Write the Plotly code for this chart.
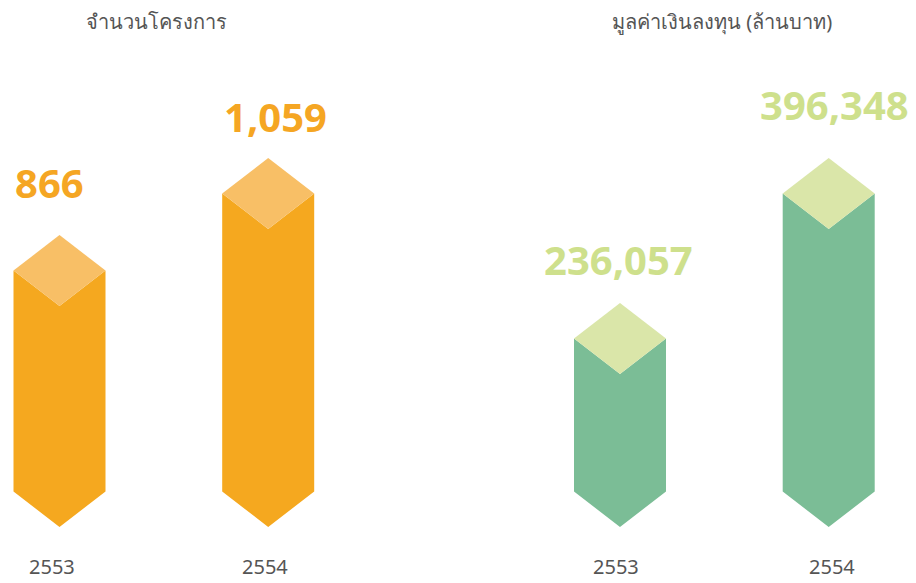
import plotly.graph_objects as go

# ---- data ----
years = ["2553", "2554"]
projects = [866, 1059]
investment = [236057, 396348]
project_labels = ["866", "1,059"]
investment_labels = ["236,057", "396,348"]
titles = ["จำนวนโครงการ", "มูลค่าเงินลงทุน (ล้านบาท)"]

# ---- layout / style ----
W, H = 916, 583
BOTTOM_PX = 527          # pixel row of the bottom tip
DIAMOND_PX = 35.5        # half height of the diamond cap (px)
HALF_W_PX = 46           # half width of a prism (px)
SLOT_PX = 208.7          # distance between bar centres (px)

panels = [
    dict(values=projects, labels=project_labels, title=titles[0],
         xr=[-59.5 / SLOT_PX, -59.5 / SLOT_PX + 458 / SLOT_PX],
         yr=[-6, 1455], dom=[0, 0.5],
         dark="#F5A81F", light="#F8BF66", text="#F5A623", title_x=156,
         label_shift=[(-10, 53), (7, 42)], year_shift=[(-8, -39), (-3, -39)]),
    dict(values=investment, labels=investment_labels, title=titles[1],
         xr=[-162 / SLOT_PX, -162 / SLOT_PX + 458 / SLOT_PX],
         yr=[-73490, 571017], dom=[0.5, 1],
         dark="#7BBD96", light="#DAE6A9", text="#CEE08C", title_x=722,
         label_shift=[(-2, 43), (6, 54)], year_shift=[(-4, -39), (3, -39)]),
]

fig = go.Figure()
annotations = []
for i, p in enumerate(panels):
    xa = "x" if i == 0 else "x2"
    ya = "y" if i == 0 else "y2"
    y0, y1 = p["yr"]
    upp = (y1 - y0) / H                      # data units per pixel
    base = y1 - BOTTOM_PX * upp
    dh = DIAMOND_PX * upp
    w = HALF_W_PX / SLOT_PX
    for j, v in enumerate(p["values"]):
        c = j
        body_x = [c - w, c, c + w, c + w, c, c - w, c - w]
        body_y = [v - dh, v - 2 * dh, v - dh, base + dh, base, base + dh, v - dh]
        fig.add_trace(go.Scatter(x=body_x, y=body_y, xaxis=xa, yaxis=ya,
                                 fill="toself", fillcolor=p["dark"], mode="lines",
                                 line=dict(width=0), hoverinfo="skip", showlegend=False))
        cap_x = [c, c + w, c, c - w, c]
        cap_y = [v, v - dh, v - 2 * dh, v - dh, v]
        fig.add_trace(go.Scatter(x=cap_x, y=cap_y, xaxis=xa, yaxis=ya,
                                 fill="toself", fillcolor=p["light"], mode="lines",
                                 line=dict(width=0), hoverinfo="skip", showlegend=False))
        lx, ly = p["label_shift"][j]
        annotations.append(dict(x=c, y=v, xref=xa, yref=ya, text=p["labels"][j],
                                showarrow=False, xshift=lx, yshift=ly, yanchor="middle",
                                font=dict(family="Noto Sans", size=40, color=p["text"],
                                          weight="bold")))
        yx, yy = p["year_shift"][j]
        annotations.append(dict(x=c, y=base, xref=xa, yref=ya, text=years[j],
                                showarrow=False, xshift=yx, yshift=yy, yanchor="middle",
                                font=dict(family="Noto Sans", size=20, color="#555555")))
    annotations.append(dict(x=p["title_x"] / W, y=1 - 22 / H, xref="paper", yref="paper",
                            text=p["title"], showarrow=False, yanchor="middle",
                            xanchor="center",
                            font=dict(family="Noto Sans", size=20, color="#555555")))

axis_common = dict(visible=False, showgrid=False, zeroline=False, fixedrange=True)
fig.update_layout(
    width=W, height=H,
    margin=dict(l=0, r=0, t=0, b=0),
    paper_bgcolor="white", plot_bgcolor="white",
    xaxis=dict(domain=panels[0]["dom"], range=panels[0]["xr"], **axis_common),
    xaxis2=dict(domain=panels[1]["dom"], range=panels[1]["xr"], **axis_common),
    yaxis=dict(domain=[0, 1], range=panels[0]["yr"], anchor="x", **axis_common),
    yaxis2=dict(domain=[0, 1], range=panels[1]["yr"], anchor="x2", **axis_common),
    annotations=annotations,
)

fig.write_html("out.html", config=dict(displayModeBar=False),
               post_script="document.body.style.margin='0px';document.body.style.overflow='hidden';")
